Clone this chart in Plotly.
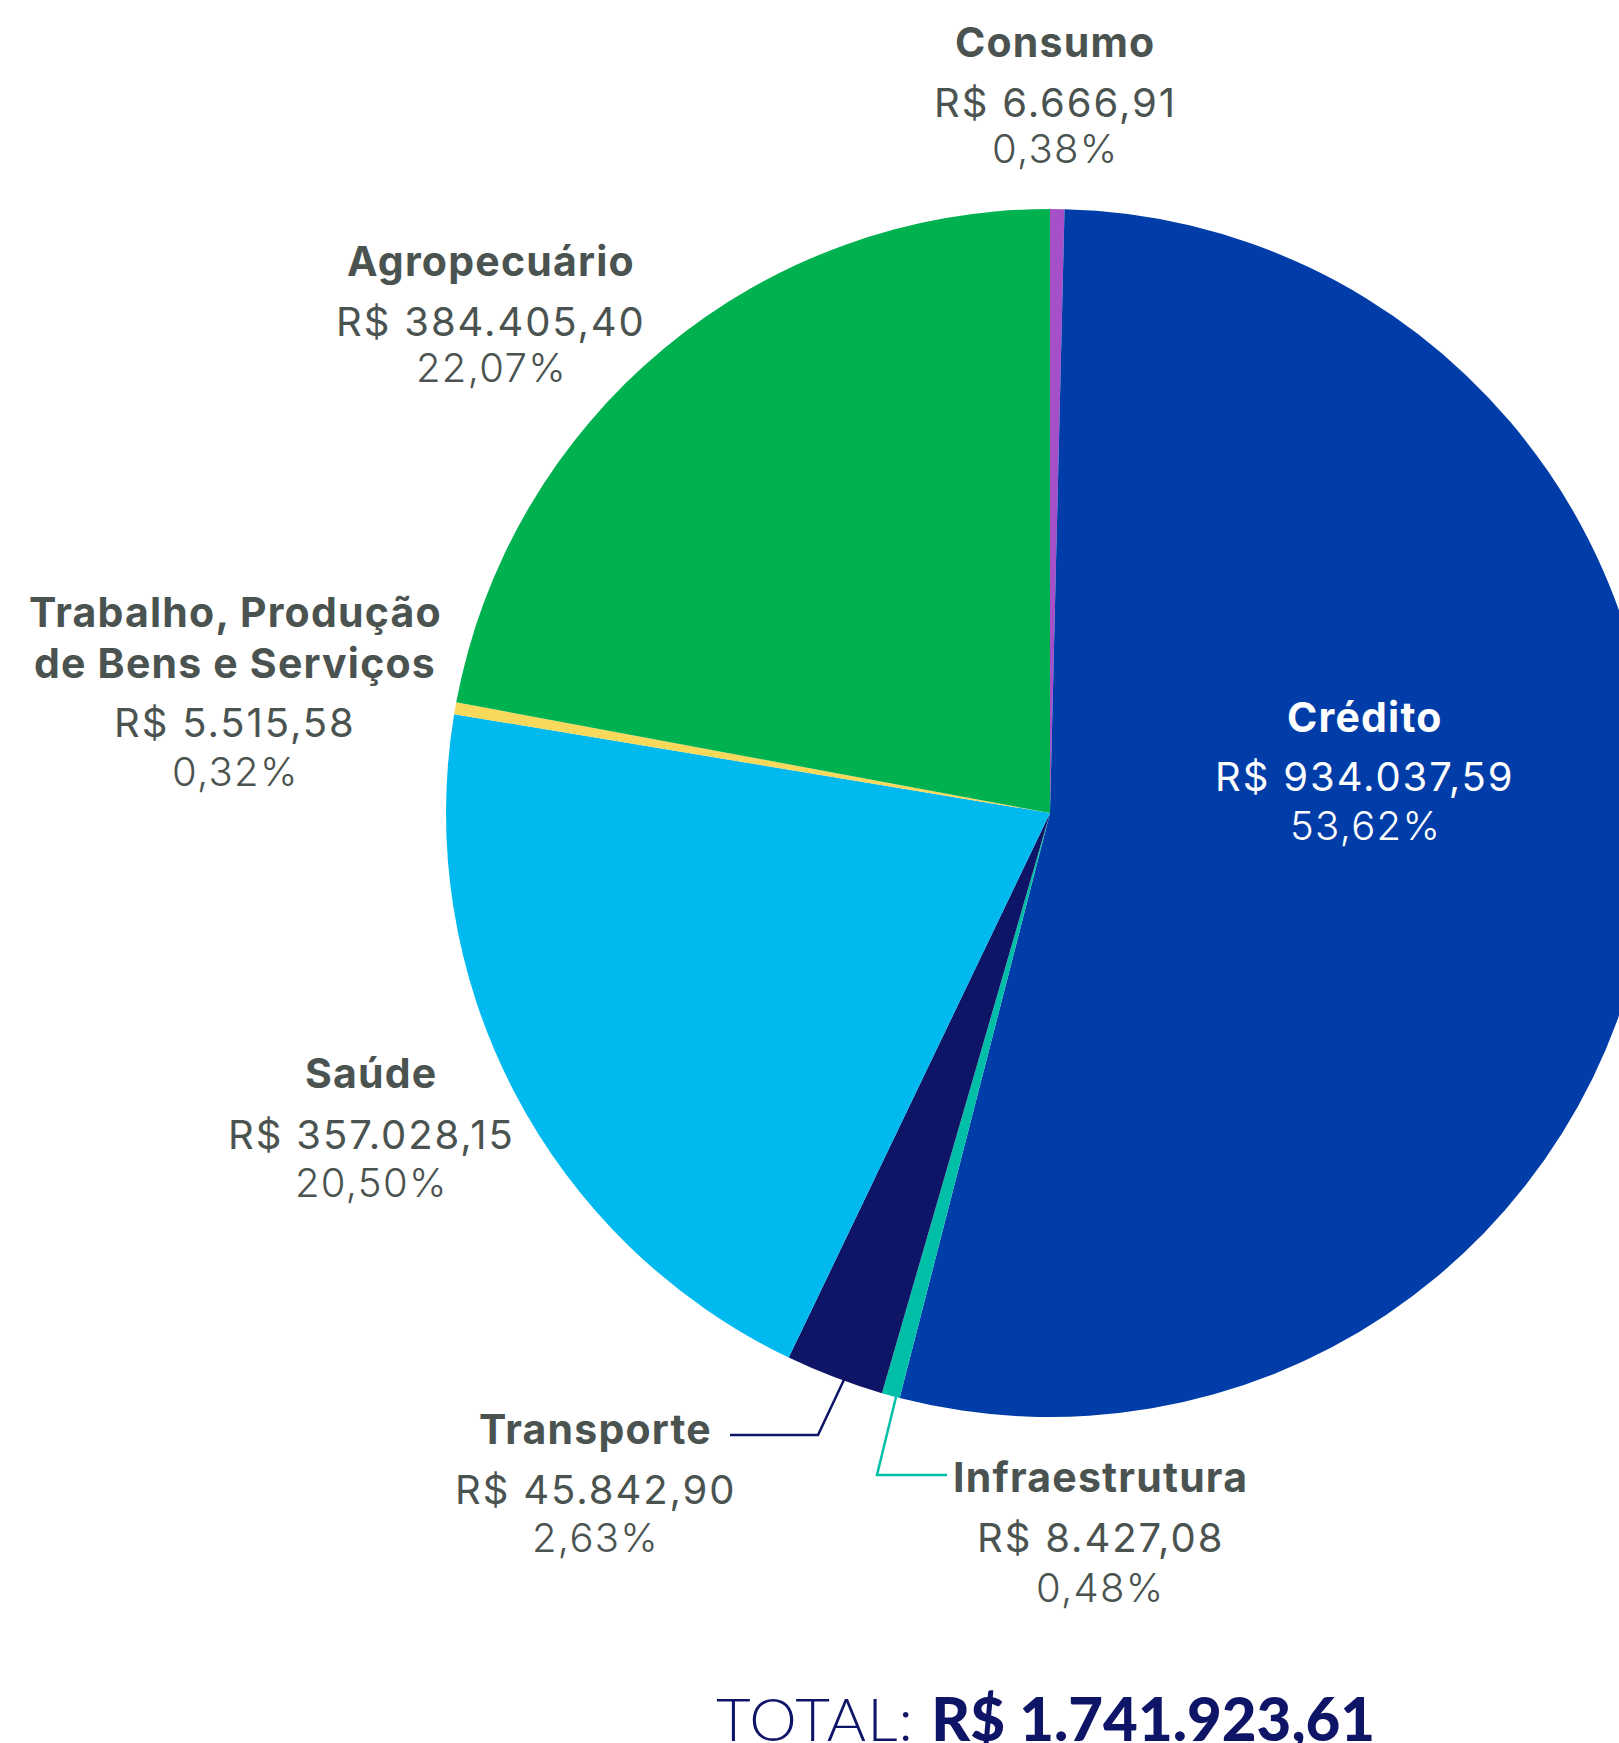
import plotly.graph_objects as go

# ---- data ----
categories = ["Consumo", "Crédito", "Infraestrutura", "Transporte", "Saúde",
              "Trabalho, Produção de Bens e Serviços", "Agropecuário"]
values = [6666.91, 934037.59, 8427.08, 45842.90, 357028.15, 5515.58, 384405.40]
value_labels = ["R$ 6.666,91", "R$ 934.037,59", "R$ 8.427,08", "R$ 45.842,90",
                "R$ 357.028,15", "R$ 5.515,58", "R$ 384.405,40"]
pct_labels = ["0,38%", "53,62%", "0,48%", "2,63%", "20,50%", "0,32%", "22,07%"]
name_lines = [["Consumo"], ["Crédito"], ["Infraestrutura"], ["Transporte"], ["Saúde"],
              ["Trabalho, Produção", "de Bens e Serviços"], ["Agropecuário"]]
colors = ["#A550C8", "#003DA8", "#00BFA8", "#0F1566", "#00BAEF", "#F8D95B", "#00B14F"]
total_label = "R$ 1.741.923,61"

W, H = 1700, 1743
CX, CY, R = 1050, 813, 604

# label layout (pixel positions of line centres)
label_pos = {
    "Consumo": (1055, [42, 102, 148]),
    "Crédito": (1365, [717, 776, 825]),
    "Infraestrutura": (1100, [1477, 1537, 1587]),
    "Transporte": (595, [1429, 1489, 1537]),
    "Saúde": (371, [1073, 1134, 1182]),
    "Trabalho, Produção de Bens e Serviços": (235, [612, 663, 722, 771]),
    "Agropecuário": (491, [261, 321, 367]),
}

TEXT = "#4B5350"

# (weight, size, letter-spacing px, family)
STYLES = {
    "name": (700, 41, 1.2, "Inter"),
    "value": (400, 40, 1.9, "Inter"),
    "pct": (300, 40, 1.3, "Inter Light, Inter"),
}

fig = go.Figure()
fig.add_trace(go.Pie(
    labels=categories, values=values, sort=False, direction="clockwise", rotation=0,
    marker=dict(colors=colors, line=dict(width=0)),
    textinfo="none", hoverinfo="skip", showlegend=False,
    domain=dict(x=[(CX - R) / W, (CX + R) / W], y=[1 - (CY + R) / H, 1 - (CY - R) / H]),
))

annotations = []
for i, cat in enumerate(categories):
    x, ys = label_pos[cat]
    col = "white" if cat == "Crédito" else TEXT
    lines = [(t, "name") for t in name_lines[i]] + [(value_labels[i], "value"), (pct_labels[i], "pct")]
    for (txt, kind), y in zip(lines, ys):
        wt, sz, ls, fam = STYLES[kind]
        annotations.append(dict(
            x=x, y=y, xref="x", yref="y",
            text=f"<span style='letter-spacing:{ls}px'>{txt}</span>", showarrow=False,
            xanchor="center", yanchor="middle",
            font=dict(family=fam, size=sz, color=col, weight=wt),
        ))

annotations.append(dict(
    x=1045, y=1718, xref="x", yref="y", showarrow=False, xanchor="center", yanchor="middle",
    text=("<span style='font-weight:300;letter-spacing:1px'>TOTAL: </span>"
          f"<span style='font-weight:900'>{total_label}</span>"),
    font=dict(family="Lato", size=60, color="#0F1566"),
))

shapes = [
    dict(type="path", xref="x", yref="y", path="M 730 1435 L 818 1435 L 850 1367",
         line=dict(color="#0F1566", width=2.5)),
    dict(type="path", xref="x", yref="y", path="M 947 1475 L 877 1475 L 896 1397",
         line=dict(color="#00BFA8", width=2.5)),
]

fig.update_layout(
    width=W, height=H, margin=dict(l=0, r=0, t=0, b=0),
    paper_bgcolor="white", plot_bgcolor="rgba(0,0,0,0)",
    xaxis=dict(range=[0, W], visible=False, fixedrange=True, domain=[0, 1]),
    yaxis=dict(range=[H, 0], visible=False, fixedrange=True, domain=[0, 1]),
    annotations=annotations, shapes=shapes,
)

fig.write_html("out.html", config={"displayModeBar": False, "responsive": False},
               post_script="document.body.style.margin='0';document.body.style.overflow='hidden';")
